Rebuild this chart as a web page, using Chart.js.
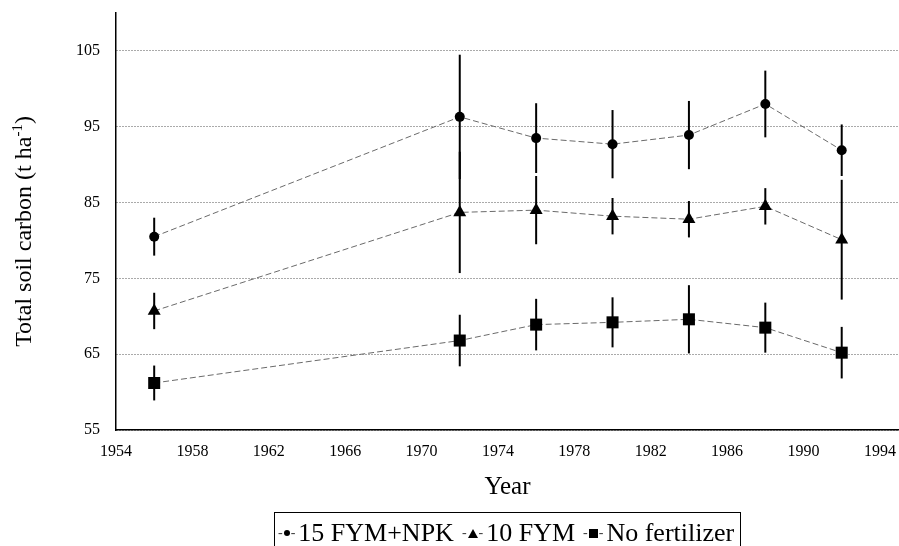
<!DOCTYPE html>
<html>
<head>
<meta charset="utf-8">
<script src="https://cdn.jsdelivr.net/npm/chart.js@4.4.0/dist/chart.umd.min.js"></script>
<style>
	html, body { margin: 0; padding: 0; background: #fff; }
	#wrap { position: relative; width: 899px; height: 546px; overflow: hidden; }
	#legend {
		position: absolute; left: 274px; top: 512px; width: 467px; height: 44px;
		border: 1.5px solid #000; box-sizing: border-box;
		font-family: "Liberation Serif", serif; font-size: 26px; line-height: 26px; color: #000;
		display: flex; align-items: flex-start; padding: 7px 0 0 3px; white-space: nowrap;
	}
	.item { display: flex; align-items: center; margin-right: 8px; height: 26px; }
	.dash { color: #444; font-size: 14px; line-height: 14px; }
	.mk { display: inline-block; margin: 0 1px; }
	.mk.circle { width: 6px; height: 6px; border-radius: 50%; background: #000; }
	.mk.triangle { width: 0; height: 0; border-left: 5px solid transparent; border-right: 5px solid transparent; border-bottom: 9px solid #000; }
	.mk.rect { width: 9px; height: 9px; background: #000; }
	.label { margin-left: 3px; }
</style>
</head>
<body>
<div id="wrap">
	<canvas id="myChart" width="899" height="546"></canvas>
	<div id="legend"></div>
</div>
<script>
const years = [1956, 1972, 1976, 1980, 1984, 1988, 1992];
const seriesNames = ["15 FYM+NPK", "10 FYM", "No fertilizer"];
const fymNpk = [80.5, 96.3, 93.5, 92.7, 93.9, 98.0, 91.9];
const fymNpkErr = [2.5, 8.2, 4.6, 4.5, 4.5, 4.4, 3.4];
const fym10 = [70.7, 83.7, 84.0, 83.2, 82.8, 84.5, 80.1];
const fym10Err = [2.4, 8.0, 4.5, 2.4, 2.4, 2.4, 7.9];
const noFert = [61.2, 66.8, 68.9, 69.2, 69.6, 68.5, 65.2];
const noFertErr = [2.3, 3.4, 3.4, 3.3, 4.5, 3.3, 3.4];
const xTicks = [1954, 1958, 1962, 1966, 1970, 1974, 1978, 1982, 1986, 1990, 1994];
const yTicks = [55, 65, 75, 85, 95, 105];

const serif = "'Liberation Serif', 'Times New Roman', serif";
const errors = [fymNpkErr, fym10Err, noFertErr];

function series(label, values, style, radius) {
	return {
		label: label,
		data: years.map((x, i) => ({ x: x, y: values[i] })),
		borderColor: "#6a6a6a",
		borderWidth: 1,
		borderDash: [6, 3],
		pointStyle: style,
		pointRadius: radius,
		pointBackgroundColor: "#000",
		pointBorderColor: "#000",
		pointBorderWidth: 0,
		tension: 0,
		fill: false,
	};
}

// vertical error bars, drawn under the markers
const errorBars = {
	id: "errorBars",
	beforeDatasetsDraw(chart) {
		const ctx = chart.ctx;
		const y = chart.scales.y;
		ctx.save();
		ctx.strokeStyle = "#000";
		ctx.lineWidth = 2;
		chart.data.datasets.forEach((ds, di) => {
			const meta = chart.getDatasetMeta(di);
			meta.data.forEach((pt, i) => {
				const v = ds.data[i].y;
				const e = errors[di][i];
				ctx.beginPath();
				ctx.moveTo(pt.x, y.getPixelForValue(v + e));
				ctx.lineTo(pt.x, y.getPixelForValue(v - e));
				ctx.stroke();
			});
		});
		ctx.restore();
	},
};

// y title with superscript
const yTitle = {
	id: "yTitle",
	afterDraw(chart) {
		const ctx = chart.ctx;
		const a = chart.chartArea;
		const t1 = "Total soil carbon (t ha";
		const sup = "-1";
		const t2 = ")";
		ctx.save();
		ctx.fillStyle = "#000";
		ctx.textBaseline = "alphabetic";
		ctx.font = "24px " + serif;
		const w1 = ctx.measureText(t1).width;
		const w2 = ctx.measureText(t2).width;
		ctx.font = "15px " + serif;
		const ws = ctx.measureText(sup).width;
		ctx.translate(31, (a.top + a.bottom) / 2 + 10);
		ctx.rotate(-Math.PI / 2);
		let x = -(w1 + ws + w2) / 2;
		ctx.font = "24px " + serif;
		ctx.fillText(t1, x, 0);
		x += w1;
		ctx.font = "15px " + serif;
		ctx.fillText(sup, x, -9);
		x += ws;
		ctx.font = "24px " + serif;
		ctx.fillText(t2, x, 0);
		ctx.restore();
	},
};

const chart = new Chart(document.getElementById("myChart"), {
	type: "line",
	data: {
		datasets: [
			series(seriesNames[0], fymNpk, "circle", 5),
			series(seriesNames[1], fym10, "triangle", 7.5),
			series(seriesNames[2], noFert, "rect", 8.5),
		],
	},
	options: {
		responsive: false,
		animation: false,
		layout: { autoPadding: false, padding: { top: 13, left: 0, right: 0, bottom: 0 } },
		plugins: {
			legend: { display: false },
			tooltip: { enabled: false },
		},
		scales: {
			x: {
				type: "linear",
				min: 1954,
				max: 1995,
				afterBuildTicks: (s) => {
					s.ticks = xTicks.map((v) => ({ value: v }));
				},
				afterFit: (s) => {
					s.height = 116;
					s.paddingLeft = 0;
					s.paddingRight = 0;
				},
				// invisible tick marks push the labels down without adding side padding
				grid: { display: true, drawOnChartArea: false, drawTicks: true, tickLength: 12, tickColor: "rgba(0,0,0,0)" },
				border: { display: true, color: "#000", width: 1.5 },
				ticks: {
					color: "#000",
					font: { family: serif, size: 16 },
					padding: 0,
					maxRotation: 0,
					autoSkip: false,
					callback: (v) => String(v),
				},
				title: {
					display: true,
					text: "Year",
					color: "#000",
					font: { family: serif, size: 25 },
					padding: { top: 0, bottom: 44 },
				},
			},
			y: {
				type: "linear",
				min: 55,
				max: 110,
				afterBuildTicks: (s) => {
					s.ticks = yTicks.map((v) => ({ value: v }));
				},
				afterFit: (s) => {
					s.width = 116;
					s.paddingTop = 0;
					s.paddingBottom = 0;
				},
				grid: { color: "#555", lineWidth: 1, drawTicks: false },
				border: { display: true, color: "#000", width: 1.5, dash: [1, 2] },
				ticks: {
					color: "#000",
					font: { family: serif, size: 16 },
					padding: 16,
				},
			},
		},
	},
	plugins: [errorBars, yTitle],
});

// html legend
const shapes = ["circle", "triangle", "rect"];
let html = "";
seriesNames.forEach((name, i) => {
	html += `<span class="item"><span class="dash">-</span><span class="mk ${shapes[i]}"></span><span class="dash">-</span><span class="label">${name}</span></span>`;
});
document.getElementById("legend").innerHTML = html;
</script>
</body>
</html>
